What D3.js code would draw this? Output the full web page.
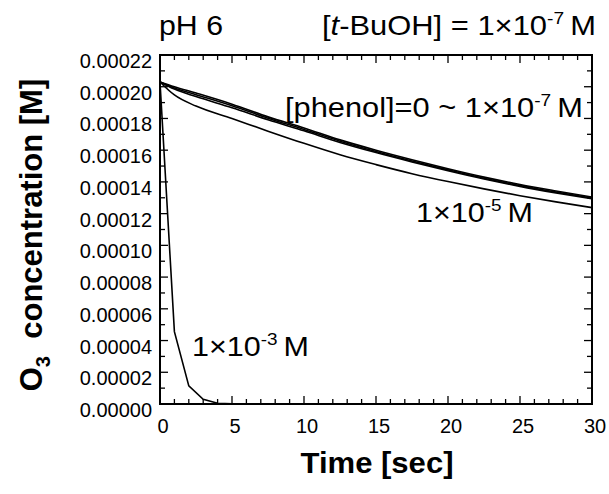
<!DOCTYPE html>
<html>
<head>
<meta charset="utf-8">
<script src="https://cdn.jsdelivr.net/npm/d3@7"></script>
<style>
  body { margin: 0; background: #fff; overflow: hidden; }
  svg { display: block; font-family: "Liberation Sans", Arial, sans-serif; }
</style>
</head>
<body>
<svg class="svg_parent"></svg>
<script>
// time points (sec) for the slow curves
var timeSlow = [0, 1, 2.5, 5, 7.5, 10, 12.5, 15, 17.5, 20, 22.5, 25, 27.5, 30];
// O3 concentration [M] for each phenol dose
var phenol0 = [0.000203, 0.0002, 0.000196, 0.000189, 0.000181, 0.000174, 0.0001665, 0.00016, 0.000154, 0.0001483, 0.000143, 0.0001384, 0.0001343, 0.0001304];
var phenol1e9 = [0.000203, 0.0001992, 0.000195, 0.000188, 0.0001802, 0.0001731, 0.0001657, 0.0001592, 0.0001532, 0.0001476, 0.0001423, 0.0001377, 0.0001336, 0.0001298];
var phenol1e7 = [0.000203, 0.0001985, 0.0001938, 0.0001868, 0.0001792, 0.0001722, 0.0001649, 0.0001585, 0.0001526, 0.000147, 0.0001418, 0.0001372, 0.0001331, 0.0001293];
var phenol1e5 = [0.000203, 0.0001948, 0.0001878, 0.00018, 0.000172, 0.0001643, 0.0001571, 0.0001509, 0.0001452, 0.0001402, 0.0001356, 0.0001313, 0.0001274, 0.0001238];
// fast curve (1e-3 M phenol)
var timeFast = [0, 1, 2, 3, 4, 5, 10, 15, 20, 25, 30];
var phenol1e3 = [0.000203, 0.0000456, 0.0000114, 0.000003, 0.0000005, 0.0000001, 0, 0, 0, 0, 0];

var xTicks = [0, 5, 10, 15, 20, 25, 30];
var yTicks = [0, 0.00002, 0.00004, 0.00006, 0.00008, 0.0001, 0.00012, 0.00014, 0.00016, 0.00018, 0.0002, 0.00022];

const width = 609, height = 494;
const margin = { top: 55, right: 17, bottom: 90, left: 160 };
const innerWidth = width - margin.left - margin.right,
  innerHeight = height - margin.top - margin.bottom;

var svg = d3.select('.svg_parent').attr('width', width).attr('height', height);

const x_scale = d3.scaleLinear().domain([0, 30]).range([margin.left, margin.left + innerWidth]);
const y_scale = d3.scaleLinear().domain([0, 0.00022]).range([margin.top + innerHeight, margin.top]);

//minor + major ticks, all pointing inward
var xMinor = d3.range(0, 31, 1);
var yMinor = d3.range(0, 23).map(d => d * 0.00001);
var tickG = svg.append('g').attr('stroke', '#000').attr('stroke-width', 1.3);
xMinor.forEach(function (t) {
  var len = t % 5 == 0 ? 8 : 5;
  tickG.append('line').attr('x1', x_scale(t)).attr('x2', x_scale(t))
    .attr('y1', y_scale(0)).attr('y2', y_scale(0) - len);
  tickG.append('line').attr('x1', x_scale(t)).attr('x2', x_scale(t))
    .attr('y1', y_scale(0.00022)).attr('y2', y_scale(0.00022) + len);
});
yMinor.forEach(function (v, i) {
  var len = i % 2 == 0 ? 8 : 5;
  tickG.append('line').attr('y1', y_scale(v)).attr('y2', y_scale(v))
    .attr('x1', x_scale(0)).attr('x2', x_scale(0) + len);
  tickG.append('line').attr('y1', y_scale(v)).attr('y2', y_scale(v))
    .attr('x1', x_scale(30)).attr('x2', x_scale(30) - len);
});

//tick labels
svg.append('g').selectAll('text').data(yTicks).join('text')
  .attr('x', margin.left - 8).attr('y', d => y_scale(d) + 13)
  .attr('text-anchor', 'end').attr('font-size', 20)
  .text(d => d3.format('.5f')(d));
svg.append('g').selectAll('text').data(xTicks).join('text')
  .attr('x', d => x_scale(d) + 3).attr('y', y_scale(0) + 29)
  .attr('text-anchor', 'middle').attr('font-size', 20)
  .text(d => d);

//lines
var lineGen = d3.line().x(d => x_scale(d[0])).y(d => y_scale(d[1]));
var series = [
  [timeSlow, phenol0], [timeSlow, phenol1e9], [timeSlow, phenol1e7],
  [timeSlow, phenol1e5], [timeFast, phenol1e3]
];
svg.append('g').selectAll('path').data(series).join('path')
  .attr('d', s => lineGen.curve(s[0] == timeSlow ? d3.curveMonotoneX : d3.curveLinear)(s[0].map((t, i) => [t, s[1][i]])))
  .attr('fill', 'none').attr('stroke', '#000').attr('stroke-width', 1.6);

//frame
svg.append('rect').attr('x', margin.left).attr('y', margin.top)
  .attr('width', innerWidth).attr('height', innerHeight)
  .attr('fill', 'none').attr('stroke', '#000').attr('stroke-width', 2);

//axis titles
svg.append('text').attr('x', 377).attr('y', 473).attr('text-anchor', 'middle')
  .attr('textLength', 153).attr('lengthAdjust', 'spacingAndGlyphs')
  .attr('font-size', 30).attr('font-weight', 'bold').text('Time [sec]');
var yTitle = svg.append('text').attr('x', 42).attr('y', 235).attr('transform', 'rotate(-90,42,235)')
  .attr('text-anchor', 'middle').attr('font-size', 31).attr('font-weight', 'bold');
yTitle.append('tspan').text('O');
yTitle.append('tspan').attr('font-size', 20).attr('dy', 8).text('3');
yTitle.append('tspan').attr('dy', -8).text('\u00a0\u00a0concentration [M]');

//annotations with superscripts (stretched a little wider, like the source)
function sciLabel(x, y, pre, exp, size, len) {
  var t = svg.append('text').attr('x', x).attr('y', y).attr('font-size', size)
    .attr('textLength', len).attr('lengthAdjust', 'spacingAndGlyphs');
  pre.forEach(p => t.append('tspan').attr('font-style', p[1] ? 'italic' : null).text(p[0]));
  t.append('tspan').attr('font-size', size * 0.62).attr('dy', -size * 0.38).text(exp);
  t.append('tspan').attr('dy', size * 0.38).text('\u2009M');
  return t;
}
svg.append('text').attr('x', 159).attr('y', 35).attr('font-size', 28)
  .attr('textLength', 64).attr('lengthAdjust', 'spacingAndGlyphs').text('pH 6');
sciLabel(322, 35, [['['], ['t', true], ['-BuOH] = 1\u00d710']], '-7', 28, 274);
sciLabel(285, 117, [['[phenol]=0 ~ 1\u00d710']], '-7', 28, 298);
sciLabel(416, 222, [['1\u00d710']], '-5', 28, 117);
sciLabel(192, 356, [['1\u00d710']], '-3', 28, 117);
</script>
</body>
</html>
